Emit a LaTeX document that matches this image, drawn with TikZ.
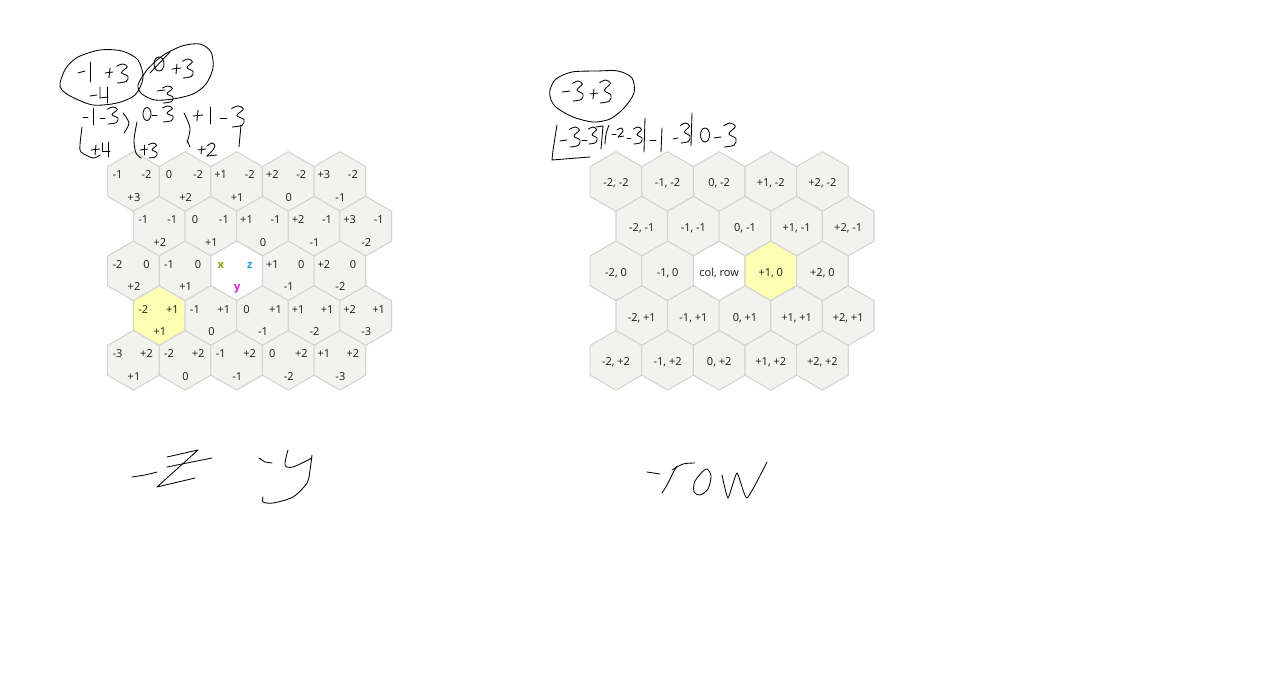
\documentclass[tikz,border=0pt]{standalone}
\usepackage{fontspec}
\newfontfamily\uifont{Open Sans}
\usetikzlibrary{shapes.geometric}
\definecolor{hexfill}{HTML}{F2F2EF}
\definecolor{hexline}{HTML}{D4D4D2}
\definecolor{hexyellow}{HTML}{FFFFB4}
\definecolor{qcol}{HTML}{7AAA10}
\definecolor{rcol}{HTML}{1FA0E0}
\definecolor{scol}{HTML}{D81CC8}
\definecolor{labcol}{HTML}{1A1A1A}
\tikzset{
  hexcell/.style={regular polygon, regular polygon sides=6, shape border rotate=30,
    minimum size=59.6pt, inner sep=0pt, outer sep=0pt, draw=hexline, line width=1.1pt, fill=hexfill},
  yellowcell/.style={fill=hexyellow},
  whitecell/.style={fill=white},
  plaincell/.style={},
  lab/.style={font=\uifont\fontsize{11}{12}\selectfont, text=labcol, inner sep=0pt,
    text height=7.8pt, text depth=0pt},
  hand/.style={draw=black, line width=0.85pt, line cap=round, line join=round}
}
% left grid cell: col, row, style, x, z, y
\newcommand{\cellL}[6]{%
  \node[hexcell,#3] (L#2#1) at ({133.5+#1*51.6+mod(#2,2)*25.8},{181.5+#2*44.7}) {};
  \node[lab] (L#2#1a) at ([shift={(-16,-6.5)}]L#2#1.center) {#4};
  \node[lab] (L#2#1b) at ([shift={(13,-6.5)}]L#2#1.center) {#5};
  \node[lab] (L#2#1c) at ([shift={(0.5,16)}]L#2#1.center) {#6};
}
% right grid cell: col, row, style, text
\newcommand{\cellR}[4]{%
  \node[hexcell,#3] (R#2#1) at ({616+#1*51.6+mod(#2,2)*25.8},{181.5+#2*44.7}) {};
  \node[lab] (R#2#1a) at ([shift={(0,1.5)}]R#2#1.center) {#4};
}
% handwritten three: left, top, width, height
\newcommand{\hthree}[4]{%
  \draw[hand] plot[smooth,tension=0.55] coordinates {({#1+0.05*#3},{#2+0.12*#4}) ({#1+0.55*#3},{#2}) ({#1+0.95*#3},{#2+0.15*#4}) ({#1+0.45*#3},{#2+0.45*#4}) ({#1+#3},{#2+0.65*#4}) ({#1+0.85*#3},{#2+0.92*#4}) ({#1+0.1*#3},{#2+#4})};
}
\begin{document}
\begin{tikzpicture}[x=1pt,y=-1pt]
\fill[white] (0,0) rectangle (1270,682);
\useasboundingbox (0,0) rectangle (1270,682);

% ---------- left grid ----------
\cellL{0}{0}{plaincell}{-1}{-2}{+3}
\cellL{1}{0}{plaincell}{0}{-2}{+2}
\cellL{2}{0}{plaincell}{+1}{-2}{+1}
\cellL{3}{0}{plaincell}{+2}{-2}{0}
\cellL{4}{0}{plaincell}{+3}{-2}{-1}
\cellL{0}{1}{plaincell}{-1}{-1}{+2}
\cellL{1}{1}{plaincell}{0}{-1}{+1}
\cellL{2}{1}{plaincell}{+1}{-1}{0}
\cellL{3}{1}{plaincell}{+2}{-1}{-1}
\cellL{4}{1}{plaincell}{+3}{-1}{-2}
\cellL{0}{2}{plaincell}{-2}{0}{+2}
\cellL{1}{2}{plaincell}{-1}{0}{+1}
\cellL{2}{2}{whitecell}{\textcolor{qcol}{\bfseries x}}{\textcolor{rcol}{\bfseries z}}{\textcolor{scol}{\bfseries y}}
\cellL{3}{2}{plaincell}{+1}{0}{-1}
\cellL{4}{2}{plaincell}{+2}{0}{-2}
\cellL{0}{3}{yellowcell}{-2}{+1}{+1}
\cellL{1}{3}{plaincell}{-1}{+1}{0}
\cellL{2}{3}{plaincell}{0}{+1}{-1}
\cellL{3}{3}{plaincell}{+1}{+1}{-2}
\cellL{4}{3}{plaincell}{+2}{+1}{-3}
\cellL{0}{4}{plaincell}{-3}{+2}{+1}
\cellL{1}{4}{plaincell}{-2}{+2}{0}
\cellL{2}{4}{plaincell}{-1}{+2}{-1}
\cellL{3}{4}{plaincell}{0}{+2}{-2}
\cellL{4}{4}{plaincell}{+1}{+2}{-3}

% ---------- right grid ----------
\cellR{0}{0}{plaincell}{-2, -2}
\cellR{1}{0}{plaincell}{-1, -2}
\cellR{2}{0}{plaincell}{0, -2}
\cellR{3}{0}{plaincell}{+1, -2}
\cellR{4}{0}{plaincell}{+2, -2}
\cellR{0}{1}{plaincell}{-2, -1}
\cellR{1}{1}{plaincell}{-1, -1}
\cellR{2}{1}{plaincell}{0, -1}
\cellR{3}{1}{plaincell}{+1, -1}
\cellR{4}{1}{plaincell}{+2, -1}
\cellR{0}{2}{plaincell}{-2, 0}
\cellR{1}{2}{plaincell}{-1, 0}
\cellR{2}{2}{whitecell}{col, row}
\cellR{3}{2}{yellowcell}{+1, 0}
\cellR{4}{2}{plaincell}{+2, 0}
\cellR{0}{3}{plaincell}{-2, +1}
\cellR{1}{3}{plaincell}{-1, +1}
\cellR{2}{3}{plaincell}{0, +1}
\cellR{3}{3}{plaincell}{+1, +1}
\cellR{4}{3}{plaincell}{+2, +1}
\cellR{0}{4}{plaincell}{-2, +2}
\cellR{1}{4}{plaincell}{-1, +2}
\cellR{2}{4}{plaincell}{0, +2}
\cellR{3}{4}{plaincell}{+1, +2}
\cellR{4}{4}{plaincell}{+2, +2}

% ---------- left handwriting ----------
% ellipse 1: -1 +3 / -4
\draw[hand] plot[smooth cycle] coordinates {(60,83) (66,68) (78,57) (100,50) (122,51) (138,60) (143,78) (135,95) (117,103) (93,105) (72,97) (62,90)};
\draw[hand] (78,73) -- (85,71);
\draw[hand] (90,62) -- (90,82);
\draw[hand] (105,73) -- (113,72);
\draw[hand] (110,68) -- (109,78);
\hthree{116}{64}{12}{19}
\draw[hand] (90,96) -- (97,95);
\draw[hand] (100,87) -- (100,98) -- (108,97);
\draw[hand] (107,87) -- (107,103);
% ellipse 2: 0 +3 / -3
\draw[hand] plot[smooth cycle] coordinates {(138,85) (147,70) (162,56) (182,46) (200,44) (211,52) (213,68) (206,84) (193,94) (173,99) (155,100) (142,94)};
\draw[hand] (159,64) ellipse [x radius=5, y radius=7];
\draw[hand] (150,73) -- (170,52);
\draw[hand] (172,69) -- (181,68);
\draw[hand] (177,64) -- (176,74);
\hthree{182}{59}{11}{19}
\draw[hand] (157,91) -- (165,90);
\hthree{162}{86}{11}{17}
% row: -1-3 ) 0-3 ) +1 -3
\draw[hand] (83,117) -- (88,117);
\draw[hand] (93,108) -- (93,125);
\draw[hand] (100,118) -- (105,118);
\hthree{107}{107}{11}{17}
\draw[hand] plot[smooth] coordinates {(123,113) (129,123) (124,133)};
\draw[hand] (147,114) ellipse [x radius=4, y radius=6.5];
\draw[hand] (152,115) -- (157,115);
\hthree{162}{106}{11}{16}
\draw[hand] plot[smooth] coordinates {(184,113) (190,128) (187,143)};
\draw[hand] (193,116) -- (203,115);
\draw[hand] (198,110) -- (197,121);
\draw[hand] (210,107) -- (210,124);
\draw[hand] (220,118) -- (227,118);
\hthree{231}{106}{13}{21}
\draw[hand] (241,125) -- (239,147);
% row: +4 ( +3 ' +2
\draw[hand] plot[smooth] coordinates {(82,127) (80,145) (81,152) (93,158) (100,155)};
\draw[hand] (91,150) -- (100,149);
\draw[hand] (96,145) -- (95,155);
\draw[hand] (102,143) -- (102,151) -- (110,151);
\draw[hand] (108,142) -- (108,157);
\draw[hand] plot[smooth] coordinates {(137,122) (134,140) (136,153) (141,158)};
\draw[hand] (140,150) -- (148,149);
\draw[hand] (144,145) -- (144,155);
\hthree{148}{143}{9}{15}
\draw[hand] (187,140) -- (190,147);
\draw[hand] (198,150) -- (206,149);
\draw[hand] (202,146) -- (201,154);
\draw[hand] plot[smooth] coordinates {(207,146) (212,143) (215,146) (212,151) (207,156)};
\draw[hand] (207,156) -- (217,155);

% ---------- right handwriting ----------
\draw[hand] plot[smooth cycle] coordinates {(550,90) (556,79) (572,72) (597,71) (618,71) (632,78) (634,93) (624,108) (610,119) (593,122) (573,117) (557,108) (551,100)};
\draw[hand] (562,92) -- (570,91);
\hthree{572}{81}{11}{20}
\draw[hand] (590,94) -- (598,93);
\draw[hand] (594,89) -- (593,99);
\hthree{599}{80}{12}{23}
% [-3-3](-2-3|-1 -3|0 -3
\draw[hand] (557,125) -- (553,150) -- (552,160) -- (590,157);
\draw[hand] (560,141) -- (567,140);
\hthree{569}{127}{11}{20}
\draw[hand] (582,140) -- (587,140);
\hthree{588}{127}{9}{17}
\draw[hand] (596,127) -- (603,126) -- (601,149);
\draw[hand] plot[smooth] coordinates {(609,125) (606,134) (605,144)};
\draw[hand] (612,134) -- (616,134);
\draw[hand] plot[smooth] coordinates {(617,130) (621,128) (623,131) (618,137)};
\draw[hand] (618,137) -- (624,136);
\draw[hand] (627,138) -- (631,138);
\hthree{633}{127}{9}{17}
\draw[hand] (645,118) -- (644,152);
\draw[hand] (650,140) -- (656,140);
\draw[hand] (662,128) -- (661,152);
\draw[hand] (673,139) -- (678,138);
\hthree{680}{123}{10}{20}
\draw[hand] (692,113) -- (691,146);
\draw[hand] (705,135) ellipse [x radius=4.5, y radius=7];
\draw[hand] (714,138) -- (721,137);
\hthree{723}{123}{13}{24}

% ---------- bottom handwriting ----------
% -z
\draw[hand] (132,477) -- (145,475) -- (157,472);
\draw[hand] (167,457) -- (198,450) -- (157,487) -- (195,478);
\draw[hand] (167,467) -- (212,458);
% -y
\draw[hand] (259,458) -- (265,462) -- (272,463);
\draw[hand] plot[smooth] coordinates {(288,450) (285,465) (293,467) (312,458)};
\draw[hand] plot[smooth] coordinates {(312,455) (310,470) (307,483) (293,497) (273,503) (263,502) (263,497)};
% -row
\draw[hand] (647,472) -- (660,474);
\draw[hand] plot[smooth] coordinates {(662,493) (667,485) (673,473) (677,466)};
\draw[hand] plot[smooth] coordinates {(672,470) (683,464) (695,463)};
\draw[hand] plot[smooth cycle] coordinates {(706,469) (711,476) (708,489) (700,495) (694,492) (695,481)};
\draw[hand] plot[smooth,tension=0.3] coordinates {(722,475) (728,498) (737,473) (747,498) (767,462)};
\end{tikzpicture}
\end{document}
